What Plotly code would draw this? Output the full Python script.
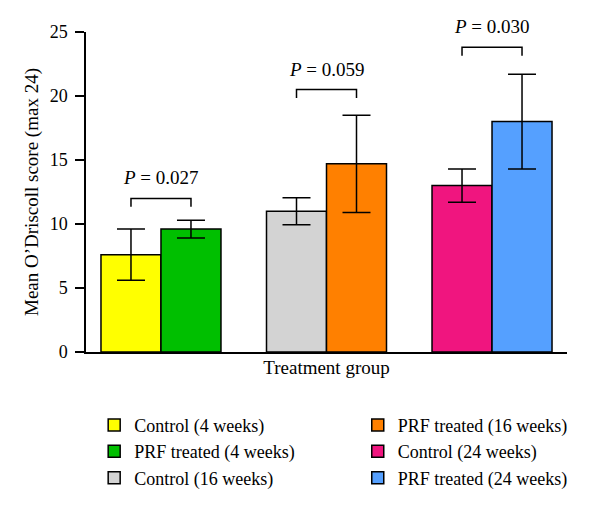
import plotly.graph_objects as go

groups = ["4 weeks", "16 weeks", "24 weeks"]
control_means = [7.6, 11.0, 13.0]
control_sd = [2.0, 1.05, 1.3]
prf_means = [9.6, 14.7, 18.0]
prf_sd = [0.7, 3.8, 3.7]
control_names = ["Control (4 weeks)", "Control (16 weeks)", "Control (24 weeks)"]
prf_names = ["PRF treated (4 weeks)", "PRF treated (16 weeks)", "PRF treated (24 weeks)"]
control_colors = ["#ffff00", "#d3d3d3", "#f0157f"]
prf_colors = ["#00bf00", "#ff8000", "#55a0ff"]
p_labels = ["0.027", "0.059", "0.030"]
bracket_levels = [12.0, 20.5, 23.8]

FONT = "Liberation Serif"
BARGAP = 0.275
half = (1 - BARGAP) / 4  # offset of each bar centre from category centre

fig = go.Figure()
legend_ids = ["legend", "legend", "legend", "legend2", "legend2", "legend2"]
items = []
for i, g in enumerate(groups):
    items.append((control_names[i], g, control_means[i], control_sd[i], control_colors[i], "c"))
    items.append((prf_names[i], g, prf_means[i], prf_sd[i], prf_colors[i], "p"))

for k, (name, g, m, sd, col, og) in enumerate(items):
    fig.add_trace(go.Bar(
        name=name, x=[g], y=[m], offsetgroup=og,
        marker=dict(color=col, line=dict(color="black", width=1.5)),
        error_y=dict(type="data", array=[sd], color="black", thickness=1.5, width=14),
        legend=legend_ids[k],
    ))

# significance brackets
for i in range(len(groups)):
    x0, x1 = i - half, i + half
    top = bracket_levels[i]
    tip = top - 0.65
    fig.add_trace(go.Scatter(
        x=[x0, x0, x1, x1], y=[tip, top, top, tip], mode="lines",
        line=dict(color="black", width=1.5), showlegend=False, hoverinfo="skip",
        xaxis="x2",
    ))
    fig.add_annotation(
        x=i, y=top, xref="x2", yref="y", text="<i>P</i> = " + p_labels[i],
        showarrow=False, yanchor="bottom", yshift=8,
        font=dict(family=FONT, size=19, color="black"),
    )

xr = [-0.453, 2.453]
fig.update_layout(
    width=600, height=510,
    margin=dict(l=78, r=41, t=24, b=166),
    plot_bgcolor="white", paper_bgcolor="white",
    barmode="group", bargap=BARGAP, bargroupgap=0,
    font=dict(family=FONT, size=19, color="black"),
    xaxis=dict(
        range=xr, showticklabels=False, ticks="", showline=True, linecolor="black",
        linewidth=1.5, showgrid=False, zeroline=False,
        title=dict(text="Treatment group", standoff=8, font=dict(size=19)),
    ),
    xaxis2=dict(range=xr, overlaying="x", visible=False),
    yaxis=dict(
        range=[0, 25], tickvals=[0, 5, 10, 15, 20, 25], ticks="outside", ticklen=9,
        tickwidth=1.5, tickcolor="black", showline=True, linecolor="black", linewidth=1.5,
        showgrid=False, zeroline=False, tickfont=dict(size=18), ticklabelstandoff=4,
        title=dict(text="Mean O’Driscoll score (max 24)", standoff=6, font=dict(size=19)),
    ),
    legend=dict(x=0.017, y=-0.171, xanchor="left", yanchor="top", orientation="v",
                font=dict(size=18), tracegroupgap=0, bgcolor="rgba(0,0,0,0)"),
    legend2=dict(x=0.565, y=-0.171, xanchor="left", yanchor="top", orientation="v",
                 font=dict(size=18), tracegroupgap=0, bgcolor="rgba(0,0,0,0)"),
)

fig.write_html("out.html")
